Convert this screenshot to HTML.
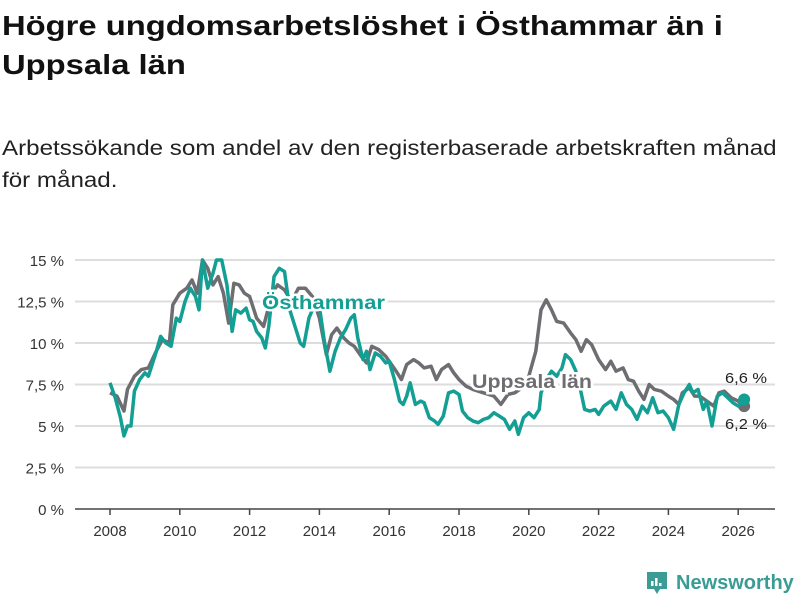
<!DOCTYPE html>
<html><head><meta charset="utf-8"><style>
body{margin:0;width:800px;height:600px;background:#fff;font-family:"Liberation Sans",sans-serif;overflow:hidden;position:relative}
h1{position:absolute;left:2px;top:6px;margin:0;font-size:28px;line-height:39px;font-weight:bold;color:#111;transform:scaleX(1.17);transform-origin:0 0;white-space:nowrap}
.sub{position:absolute;left:2px;top:133px;margin:0;font-size:21px;line-height:32px;color:#222;transform:scaleX(1.15);transform-origin:0 0;white-space:nowrap}
svg{position:absolute;left:0;top:0}
</style></head><body>
<h1>Högre ungdomsarbetslöshet i Östhammar än i<br>Uppsala län</h1>
<p class="sub">Arbetssökande som andel av den registerbaserade arbetskraften månad<br>för månad.</p>
<svg id="chart" width="800" height="600"></svg>
<div style="position:absolute;left:646px;top:571px;display:flex;align-items:center">
<svg width="22" height="24" viewBox="0 0 22 24" style="position:static"><path d="M1 1h20v17h-7l-3 5-3-5H1z" fill="#3a9c94"/><rect x="5" y="10" width="2.5" height="5" fill="#fff"/><rect x="9" y="7" width="2.5" height="8" fill="#fff"/><rect x="13" y="12" width="2.5" height="3" fill="#fff"/></svg>
<span style="margin-left:8px;font-size:20px;font-weight:bold;color:#3a9c94">Newsworthy</span></div>
<script>
const yTicks=[0,2.5,5,7.5,10,12.5,15];
const yTickLabels=["0 %","2,5 %","5 %","7,5 %","10 %","12,5 %","15 %"];
const xTicks=[2008,2010,2012,2014,2016,2018,2020,2022,2024,2026];
const uppDates=[2008.0,2008.2,2008.4,2008.5,2008.7,2008.9,2009.1,2009.3,2009.5,2009.7,2009.8,2010.0,2010.2,2010.35,2010.5,2010.65,2010.8,2010.95,2011.1,2011.25,2011.4,2011.55,2011.7,2011.85,2012.0,2012.2,2012.4,2012.5,2012.65,2012.8,2013.0,2013.2,2013.4,2013.6,2013.8,2014.0,2014.2,2014.35,2014.5,2014.7,2014.85,2015.0,2015.2,2015.35,2015.5,2015.7,2015.9,2016.0,2016.2,2016.35,2016.5,2016.7,2016.85,2017.0,2017.2,2017.35,2017.5,2017.7,2017.85,2018.0,2018.2,2018.4,2018.7,2019.0,2019.2,2019.4,2019.6,2019.8,2020.0,2020.2,2020.35,2020.5,2020.65,2020.8,2021.0,2021.2,2021.35,2021.5,2021.65,2021.8,2022.0,2022.2,2022.35,2022.5,2022.7,2022.85,2023.0,2023.15,2023.3,2023.45,2023.6,2023.8,2024.0,2024.15,2024.3,2024.4,2024.6,2024.75,2024.9,2025.1,2025.3,2025.45,2025.6,2025.8,2026.0,2026.17];
const uppValues=[7.0,6.8,5.9,7.2,8.0,8.4,8.5,9.4,10.2,10.0,12.3,13.0,13.3,13.8,13.0,15.0,14.5,13.5,14.0,13.0,11.2,13.6,13.5,13.0,12.8,11.5,11.0,11.8,13.0,13.5,13.2,12.5,13.3,13.3,12.8,11.5,9.3,10.5,10.9,10.3,10.0,9.8,9.2,8.8,9.8,9.6,9.2,8.9,8.3,7.8,8.7,9.0,8.8,8.5,8.6,7.8,8.4,8.7,8.2,7.8,7.4,7.2,7.0,6.8,6.3,6.9,7.0,7.3,8.0,9.5,12.0,12.6,12.0,11.3,11.2,10.6,10.2,9.5,10.2,9.9,9.0,8.4,8.9,8.3,8.5,7.8,7.7,7.1,6.6,7.5,7.2,7.1,6.8,6.6,6.3,7.0,7.3,6.8,6.8,6.5,6.2,7.0,7.1,6.7,6.5,6.2];
const ostDates=[2008.0,2008.15,2008.3,2008.4,2008.5,2008.6,2008.7,2008.85,2009.0,2009.1,2009.3,2009.45,2009.6,2009.75,2009.9,2010.0,2010.15,2010.3,2010.45,2010.55,2010.65,2010.8,2010.95,2011.05,2011.2,2011.35,2011.5,2011.6,2011.75,2011.9,2012.0,2012.1,2012.2,2012.35,2012.45,2012.55,2012.7,2012.85,2013.0,2013.15,2013.3,2013.45,2013.55,2013.7,2013.9,2014.0,2014.15,2014.3,2014.45,2014.6,2014.75,2014.9,2015.0,2015.1,2015.25,2015.35,2015.45,2015.6,2015.75,2015.9,2016.0,2016.15,2016.3,2016.4,2016.5,2016.6,2016.75,2016.9,2017.0,2017.15,2017.3,2017.4,2017.55,2017.7,2017.85,2018.0,2018.1,2018.25,2018.4,2018.55,2018.7,2018.85,2019.0,2019.15,2019.3,2019.45,2019.6,2019.7,2019.85,2020.0,2020.15,2020.3,2020.35,2020.5,2020.65,2020.8,2020.95,2021.05,2021.2,2021.35,2021.5,2021.6,2021.75,2021.9,2022.0,2022.15,2022.35,2022.5,2022.65,2022.8,2022.95,2023.1,2023.25,2023.4,2023.55,2023.7,2023.85,2024.0,2024.15,2024.3,2024.45,2024.6,2024.7,2024.85,2025.0,2025.1,2025.25,2025.4,2025.55,2025.7,2025.85,2026.0,2026.17];
const ostValues=[7.6,6.7,5.5,4.4,5.0,5.0,7.1,7.8,8.2,8.0,9.3,10.4,10.0,9.8,11.5,11.3,12.5,13.3,12.8,12.0,15.0,13.3,14.2,15.0,15.0,13.5,10.7,12.0,11.8,12.1,11.4,11.3,10.7,10.3,9.7,11.0,14.0,14.5,14.3,12.0,11.0,10.0,9.8,11.5,12.5,12.2,10.0,8.3,9.5,10.3,10.8,11.5,11.7,10.3,9.0,9.5,8.4,9.4,9.2,8.8,8.9,7.8,6.5,6.3,6.8,7.6,6.3,6.5,6.4,5.5,5.3,5.1,5.6,7.0,7.1,6.9,5.9,5.5,5.3,5.2,5.4,5.5,5.8,5.6,5.4,4.8,5.3,4.5,5.5,5.8,5.5,6.0,7.0,7.8,8.3,8.0,8.5,9.3,9.0,8.3,7.0,6.0,5.9,6.0,5.7,6.2,6.5,6.0,7.0,6.3,6.0,5.4,6.2,5.8,6.7,5.8,5.9,5.5,4.8,6.3,7.0,7.5,7.0,7.2,6.0,6.5,5.0,6.8,7.0,6.7,6.4,6.2,6.6];
const NS="http://www.w3.org/2000/svg";
const svg=document.getElementById('chart');
const X=v=>110+(v-2008)*34.9;
const Y=v=>509-v*16.6;
function mk(t,a,txt){const e=document.createElementNS(NS,t);for(const k in a)e.setAttribute(k,a[k]);if(txt!==undefined)e.textContent=txt;svg.appendChild(e);return e;}
yTicks.forEach((t,i)=>{
 const g=mk('line',{x1:75,x2:775,y1:Y(t),y2:Y(t),stroke:t===0?'#444':'#ddd','stroke-width':t===0?1.5:2});
 
 
 const l=mk('text',{x:64,y:Y(t)+6,'text-anchor':'end','font-size':15,fill:'#333'},yTickLabels[i]);
 
 
});
xTicks.forEach(t=>{
 const tk=mk('line',{x1:X(t),x2:X(t),y1:509,y2:515,stroke:'#444','stroke-width':1.5});
 
 
 const l=mk('text',{x:X(t),y:536,'text-anchor':'middle','font-size':15,fill:'#333'},String(t));
 
 
});
function line(d,v,c,name){
 const p=mk('polyline',{points:d.map((x,i)=>X(x)+','+Y(v[i])).join(' '),fill:'none',stroke:c,'stroke-width':3.5,'stroke-linejoin':'round'});
 
 
 const n=d.length-1;
 const c2=mk('circle',{cx:X(d[n]),cy:Y(v[n]),r:6,fill:c});
 
 
}
line(uppDates,uppValues,'#6e6d72','uppsala-line');
line(ostDates,ostValues,'#149f94','osthammar-line');
function lab(x,y,t,c,name,bold,len){
 const a={x:x,y:y,'font-size':bold?19:15,'font-weight':bold?'bold':'normal',fill:c,stroke:'#fff','stroke-width':bold?5:0,'paint-order':'stroke'};
 if(len){a.textLength=len;a.lengthAdjust='spacingAndGlyphs';}
 const e=mk('text',a,t);
 
 
}
lab(262,309,'Östhammar','#149f94','osthammar-label',true,123);
lab(472,388,'Uppsala län','#6e6d72','uppsala-label',true,120);
lab(725,383,'6,6 %','#222','osthammar-end-value',false,42);
lab(725,429,'6,2 %','#222','uppsala-end-value',false,42);
</script>
</body></html>
